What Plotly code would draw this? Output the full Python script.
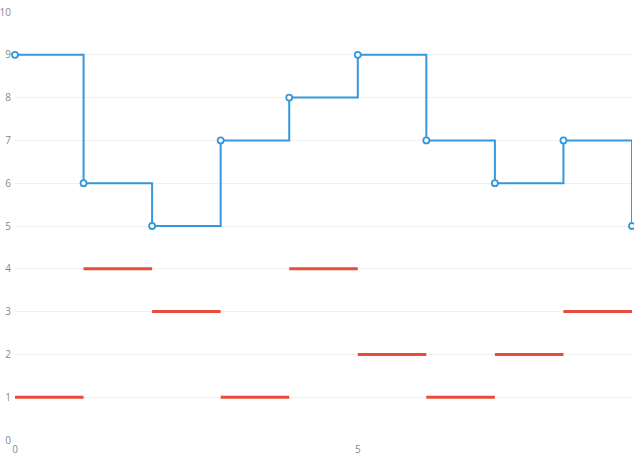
import plotly.graph_objects as go

x_vals = [0, 1, 2, 3, 4, 5, 6, 7, 8, 9]
blue_vals = [9, 6, 5, 7, 8, 9, 7, 6, 7, 5]
red_vals = [1, 4, 3, 1, 4, 2, 1, 2, 3]

fig = go.Figure()

# red horizontal segments, each spanning one unit from its x
rx, ry = [], []
for i, v in enumerate(red_vals):
    rx += [x_vals[i], x_vals[i] + 1, None]
    ry += [v, v, None]
fig.add_trace(go.Scatter(x=rx, y=ry, mode="lines",
                         line=dict(color="#e74c3c", width=3),
                         hoverinfo="skip", showlegend=False, cliponaxis=True))

fig.add_trace(go.Scatter(x=x_vals, y=blue_vals, mode="lines+markers",
                         line=dict(color="#3598dc", width=2, shape="hv"),
                         marker=dict(symbol="circle", size=6, color="white",
                                     line=dict(color="#3598dc", width=1.8)),
                         showlegend=False, cliponaxis=False))

fig.update_layout(
    width=634, height=458,
    margin=dict(l=15, r=2, t=12, b=18, autoexpand=False),
    paper_bgcolor="white", plot_bgcolor="white",
    font=dict(family="Open Sans", size=10, color="#888888"),
)
fig.update_xaxes(range=[0, 9], tickvals=[0, 5], showgrid=False, zeroline=False,
                 showline=False, ticks="", ticklen=0, automargin=False,
                 ticklabelstandoff=2)
fig.update_yaxes(range=[0, 10], tickvals=list(range(0, 11)), showgrid=True,
                 gridcolor="#f0f0f0", gridwidth=1, zeroline=False, showline=False,
                 ticks="", ticklabelstandoff=3, automargin=False)

fig.write_html("out.html", config={"displayModeBar": False},
               post_script="document.body.style.margin='0';")
